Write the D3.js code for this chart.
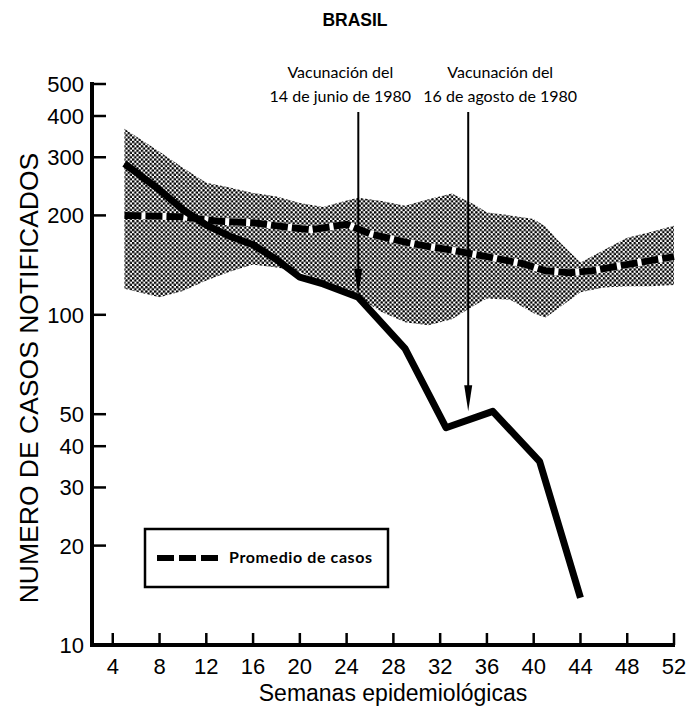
<!DOCTYPE html>
<html>
<head>
<meta charset="utf-8">
<script src="https://cdn.jsdelivr.net/npm/d3@7"></script>
<style>
body { margin:0; background:#fff; }
svg { display:block; }
</style>
</head>
<body>
<svg id="chart" width="699" height="709"></svg>
<script>
// casos notificados (linea continua)
var caseWeeks = [5, 8, 10, 12, 14, 16, 18, 20, 22, 25, 29, 32.5, 36.5, 40.5, 44];
var caseValues = [287, 239, 208, 187, 173, 163, 147, 130, 124, 113, 79, 45.5, 51, 36, 13.9];

// promedio de casos (linea discontinua)
var meanWeeks = [5, 10, 13, 16, 19, 21, 24, 26, 29, 31, 33, 36, 39, 41, 43, 45, 47, 49, 52];
var meanValues = [200, 198, 192, 190, 184, 181, 188, 176, 166, 161, 157, 150, 143, 136, 134, 136, 140, 144, 150];

// banda sombreada
var bandWeeks = [5, 8, 10, 12, 14, 16, 18, 20, 22, 24, 25, 27, 29, 31, 33, 35, 36, 38, 40, 41, 42, 44, 46, 48, 50, 52];
var bandHigh = [366, 312, 279, 251, 243, 234, 228, 218, 212, 222, 226, 221, 214, 224, 233, 215, 204, 200, 195, 185, 169, 144, 157, 171, 178, 186];
var bandLow = [120, 113, 118, 127, 135, 142, 139, 135, 125, 117, 113, 102, 95, 93, 97, 107, 112, 111, 101, 98, 104, 117, 121, 122, 122, 123];

var xTicks = [4, 8, 12, 16, 20, 24, 28, 32, 36, 40, 44, 48, 52];
var yTicks = [10, 20, 30, 40, 50, 100, 200, 300, 400, 500];

var arrowWeeks = [25, 34.4];
var arrowTips = [115, 51];
var arrowLabels = [["Vacunación del", "14 de junio de 1980"], ["Vacunación del", "16 de agosto de 1980"]];

var svg = d3.select('#chart');
var x = d3.scaleLinear().domain([0, 52]).range([66, 674]);
var y = d3.scaleLog().domain([10, 500]).range([645, 84]);
var font = 'Liberation Sans, Arial, sans-serif';
var thinFont = 'Lato, Liberation Sans, sans-serif';

var defs = svg.append('defs');
var pat = defs.append('pattern').attr('id', 'dots').attr('patternUnits', 'userSpaceOnUse')
    .attr('width', 4.4).attr('height', 4.4);
pat.append('circle').attr('cx', 1.1).attr('cy', 1.1).attr('r', 1.3).attr('fill', '#000');
pat.append('circle').attr('cx', 3.3).attr('cy', 3.3).attr('r', 1.3).attr('fill', '#000');

// band
var band = d3.area()
    .x(function(d, i){ return x(bandWeeks[i]); })
    .y0(function(d, i){ return y(bandLow[i]); })
    .y1(function(d, i){ return y(bandHigh[i]); });
svg.append('path').datum(bandWeeks).attr('d', band).attr('fill', 'url(#dots)');

// dashed mean line
var meanLine = d3.line().x(function(d, i){ return x(meanWeeks[i]); }).y(function(d){ return y(d); });
svg.append('path').datum(meanValues).attr('d', meanLine)
    .attr('fill', 'none').attr('stroke', '#fff').attr('stroke-width', 7);
svg.append('path').datum(meanValues).attr('d', meanLine)
    .attr('fill', 'none').attr('stroke', '#000').attr('stroke-width', 7)
    .attr('stroke-dasharray', '17,4');

// solid cases line
var caseLine = d3.line().x(function(d, i){ return x(caseWeeks[i]); }).y(function(d){ return y(d); });
svg.append('path').datum(caseValues).attr('d', caseLine)
    .attr('fill', 'none').attr('stroke', '#000').attr('stroke-width', 7)
    .attr('stroke-linejoin', 'round');

// arrows
arrowWeeks.forEach(function(w, i){
    var ax = x(w), tip = y(arrowTips[i]);
    var tx = ax - 18 + i * 50;
    svg.append('line').attr('x1', ax).attr('x2', ax).attr('y1', 112).attr('y2', tip - 10)
        .attr('stroke', '#000').attr('stroke-width', 2);
    svg.append('path').attr('d', 'M' + (ax - 4) + ',' + (tip - 26) + 'L' + (ax + 4) + ',' + (tip - 26) + 'L' + ax + ',' + tip + 'Z')
        .attr('fill', '#000');
    var t = svg.append('text').attr('text-anchor', 'middle').attr('font-family', thinFont)
        .attr('font-size', 16).attr('fill', '#000');
    t.append('tspan').attr('x', tx).attr('y', 78).text(arrowLabels[i][0]);
    t.append('tspan').attr('x', tx).attr('y', 102).text(arrowLabels[i][1]);
});

// axes
svg.append('line').attr('x1', 92).attr('x2', 92).attr('y1', 82).attr('y2', 647)
    .attr('stroke', '#000').attr('stroke-width', 4);
svg.append('line').attr('x1', 90).attr('x2', x(52) + 1).attr('y1', 645).attr('y2', 645)
    .attr('stroke', '#000').attr('stroke-width', 4);

svg.selectAll('.ytick').data(yTicks.filter(function(d){ return d > 10; })).enter().append('line')
    .attr('x1', 92).attr('x2', 106).attr('y1', function(d){ return y(d); }).attr('y2', function(d){ return y(d); })
    .attr('stroke', '#000').attr('stroke-width', 2.5);
svg.selectAll('.ylab').data(yTicks).enter().append('text')
    .attr('x', 84).attr('y', function(d){ return y(d) + 8; })
    .attr('text-anchor', 'end').attr('font-family', font).attr('font-size', 22)
    .text(function(d){ return d; });

svg.selectAll('.xtick').data(xTicks).enter().append('line')
    .attr('x1', function(d){ return x(d); }).attr('x2', function(d){ return x(d); })
    .attr('y1', 633).attr('y2', 645).attr('stroke', '#000').attr('stroke-width', 2.5);
svg.selectAll('.xlab').data(xTicks).enter().append('text')
    .attr('x', function(d){ return x(d); }).attr('y', 674)
    .attr('text-anchor', 'middle').attr('font-family', font).attr('font-size', 22)
    .text(function(d){ return d; });

svg.append('text').attr('x', 393).attr('y', 701).attr('text-anchor', 'middle')
    .attr('font-family', font).attr('font-size', 23).text('Semanas epidemiológicas');
svg.append('text').attr('transform', 'translate(38,378) rotate(-90)').attr('text-anchor', 'middle')
    .attr('font-family', font).attr('font-size', 26.5).text('NUMERO DE CASOS NOTIFICADOS');
svg.append('text').attr('x', 355).attr('y', 26).attr('text-anchor', 'middle')
    .attr('font-family', font).attr('font-weight', 'bold').attr('font-size', 17.5).text('BRASIL');

// legend
svg.append('rect').attr('x', 145).attr('y', 529).attr('width', 243).attr('height', 58)
    .attr('fill', '#fff').attr('stroke', '#000').attr('stroke-width', 2.5);
svg.append('line').attr('x1', 157).attr('x2', 218).attr('y1', 558).attr('y2', 558)
    .attr('stroke', '#000').attr('stroke-width', 6).attr('stroke-dasharray', '17,5');
svg.append('text').attr('x', 229).attr('y', 563).attr('font-family', thinFont)
    .attr('font-size', 16).attr('letter-spacing', 0.6).attr('font-weight', 'bold').text('Promedio de casos');
</script>
</body>
</html>
